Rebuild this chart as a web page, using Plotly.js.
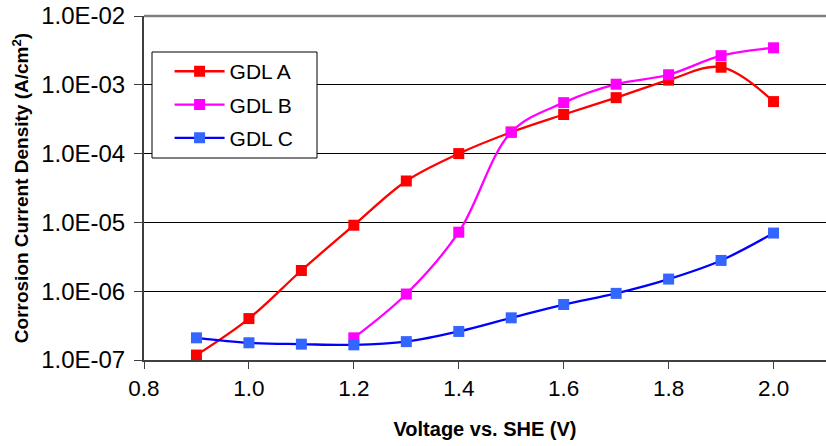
<!DOCTYPE html>
<html><head><meta charset="utf-8">
<script src="https://cdn.plot.ly/plotly-3.0.1.min.js"></script>
<style>html,body{margin:0;padding:0;background:#fff}#chart{width:826px;height:446px}</style>
</head><body><div id="chart"></div>
<script>
const voltsA = [0.9,1.0,1.1,1.2,1.3,1.4,1.5,1.6,1.7,1.8,1.9,2.0];
const gdlA = [1.18e-7,4.0e-7,2.0e-6,9.1e-6,4.0e-5,1.0e-4,2.05e-4,3.7e-4,6.5e-4,1.17e-3,1.8e-3,5.7e-4];
const voltsB = [1.2,1.3,1.4,1.5,1.6,1.7,1.8,1.9,2.0];
const gdlB = [2.1e-7,9.1e-7,7.2e-6,2.05e-4,5.5e-4,1.02e-3,1.4e-3,2.65e-3,3.45e-3];
const voltsC = [0.9,1.0,1.1,1.2,1.3,1.4,1.5,1.6,1.7,1.8,1.9,2.0];
const gdlC = [2.1e-7,1.78e-7,1.7e-7,1.66e-7,1.85e-7,2.6e-7,4.1e-7,6.4e-7,9.3e-7,1.5e-6,2.8e-6,7.0e-6];
const yTickVals = [1e-7,1e-6,1e-5,1e-4,1e-3,1e-2];
const yTickText = ['1.0E-07','1.0E-06','1.0E-05','1.0E-04','1.0E-03','1.0E-02'];
const xTickVals = [0.8,1.0,1.2,1.4,1.6,1.8,2.0];
const xTickText = ['0.8','1.0','1.2','1.4','1.6','1.8','2.0'];

const font = 'Liberation Sans, Arial, sans-serif';
function tr(name, x, y, lineColor, markerColor){
  return {x:x, y:y, name:name, legendgroup:name, type:'scatter', mode:'lines+markers',
    line:{color:lineColor, width:2.3, shape:'spline', smoothing:1},
    marker:{symbol:'square', size:11, color:markerColor, line:{width:0}}};
}
const data = [
  tr('GDL A', voltsA, gdlA, '#FF0000', '#FF0000'),
  tr('GDL B', voltsB, gdlB, '#FF00FF', '#FF00FF'),
  tr('GDL C', voltsC, gdlC, '#0000FF', '#3366FF')
];
const layout = {
  width:826, height:446,
  margin:{l:144, r:0, t:16, b:86},
  paper_bgcolor:'#fff', plot_bgcolor:'#fff',
  font:{family:font, color:'#000'},
  showlegend:true,
  legend:{x:0.0375, y:0.898, xanchor:'left', yanchor:'top', borderwidth:0,
    bgcolor:'rgba(0,0,0,0)', font:{size:21, family:font}, itemwidth:50, tracegroupgap:3, traceorder:'grouped'},
  xaxis:{range:[0.8,2.1], tickvals:xTickVals, ticktext:xTickText, ticks:'outside', ticklen:7, tickwidth:1,
    tickcolor:'#404040', showline:true, linecolor:'#404040', linewidth:2, showgrid:false, zeroline:false,
    tickfont:{size:22.5, family:font},
    title:{text:'<b>Voltage vs. SHE (V)</b>', font:{size:20, family:font}, standoff:22}},
  yaxis:{type:'log', range:[-7,-2], tickvals:yTickVals, ticktext:yTickText, ticks:'outside', ticklen:8, tickwidth:1,
    tickcolor:'#404040', showline:true, linecolor:'#404040', linewidth:2, showgrid:true, gridcolor:'#000', gridwidth:1,
    zeroline:false, tickfont:{size:24, family:font}, ticklabelstandoff:4,
    title:{text:'<b>Corrosion Current Density (A/cm<sup>2</sup>)</b>', font:{size:19, family:font}, standoff:7}},
  shapes:[
    {type:'line', xref:'paper', yref:'paper', x0:0, x1:1, y0:1, y1:1, line:{color:'#808080', width:2.5}},
    {type:'rect', xref:'paper', yref:'paper', layer:'above',
      x0:(152-144)/682, x1:(317-144)/682, y0:1-(158-16)/344, y1:1-(52-16)/344,
      fillcolor:'#fff', line:{color:'#000', width:1}}
  ]
};
Plotly.newPlot('chart', data, layout, {staticPlot:true, displayModeBar:false});
</script></body></html>
